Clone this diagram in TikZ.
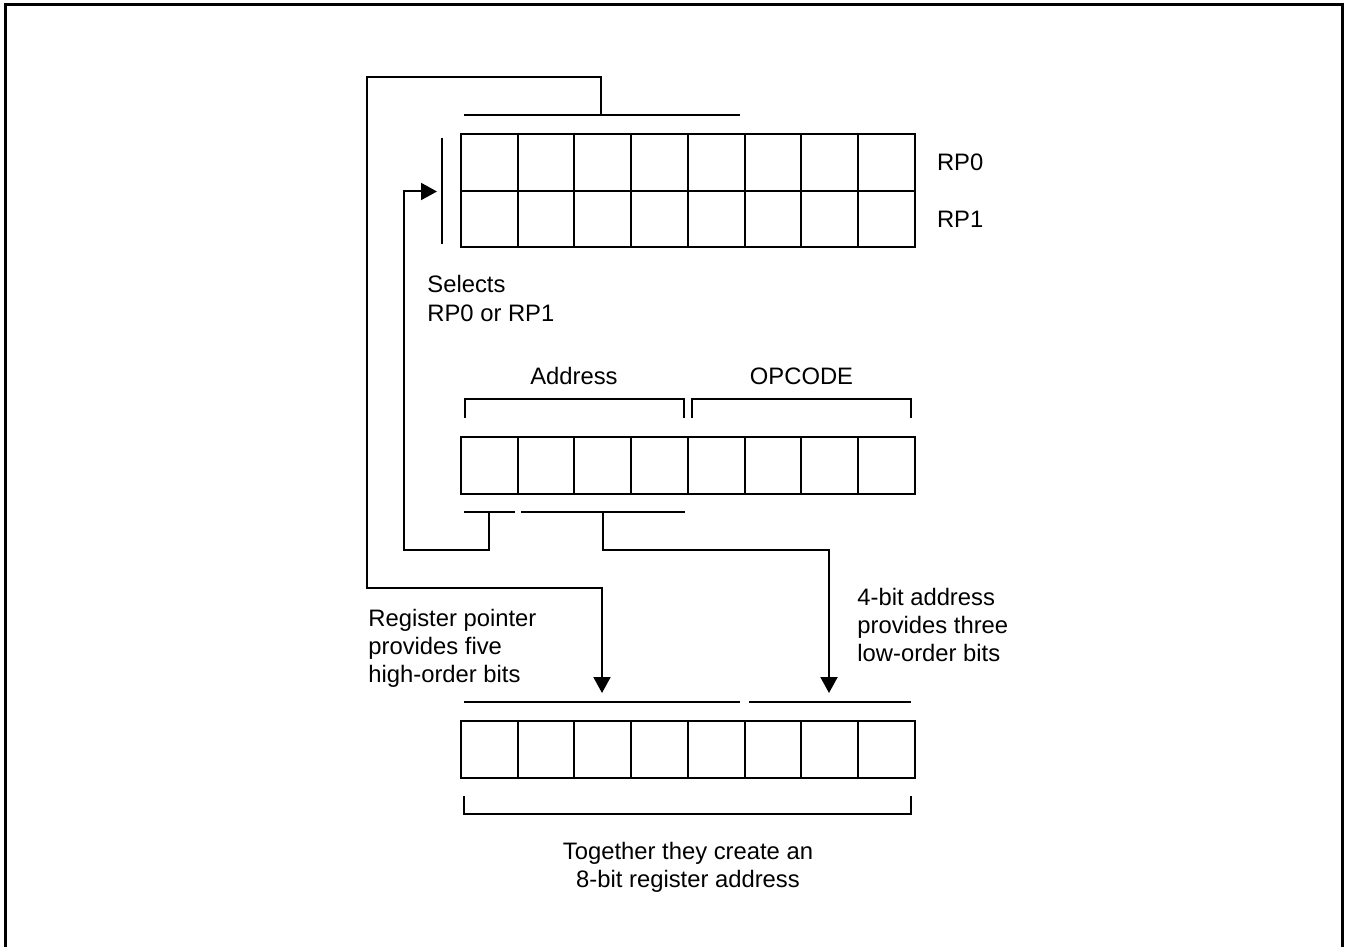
\documentclass[tikz,border=0pt]{standalone}
\usepackage{fontspec}
\setmainfont{Liberation Sans}
\usetikzlibrary{positioning, arrows.meta}
\tikzset{
  % one bit of a register
  bitcell/.style={
    draw, line width=1pt, minimum size=28.35pt,
    inner sep=0pt, outer sep=0pt
  },
  % field brackets and plain lines
  bracket/.style={line width=1pt},
  % routed connector with filled head
  feed/.style={
    line width=1pt, -{Triangle[width=8.5pt, length=8pt]}
  },
  lbl/.style={
    font=\fontsize{11.9}{14}\selectfont, inner sep=0pt, align=left
  },
}

\begin{document}
\begin{tikzpicture}[x=0.5pt, y=-0.5pt]
  \useasboundingbox (0,0) rectangle (1345,947);
  \draw[line width=1.5pt] (5,947) -- (5,5) -- (1342,5) -- (1342,947);

  %% -- Register pointers RP0 / RP1 --
  \foreach \i in {0,...,7} {
    \node[bitcell] (rpa-\i) at (489.35+56.7*\i, 162.35) {};
    \node[bitcell] (rpb-\i) at (489.35+56.7*\i, 219.05) {};
  }
  \node[lbl, right=11pt of rpa-7] (rp0) {RP0};
  \node[lbl, right=11pt of rpb-7] (rp1) {RP1};

  \draw[bracket] (464,115) -- (740,115);
  \coordinate (rpsel) at (601,115);
  \draw[bracket] (442,138) -- (442,244);   % selector bar
  \coordinate (muxin) at (437,191.5);

  \node[lbl, anchor=north west, font=\fontsize{11.9}{14.5}\selectfont] (selects) at (427,275) {Selects\\RP0 or RP1};

  %% -- Instruction: address + opcode --
  \foreach \i in {0,...,7}
    \node[bitcell] (ins-\i) at (489.35+56.7*\i, 465.35) {};

  \draw[bracket] (465,418) -- (465,399) -- (684,399) -- (684,418);
  \draw[bracket] (692,418) -- (692,399) -- (911,399) -- (911,418);
  \node[lbl] (address) at (574,376) {Address};
  \node[lbl] (opcode)  at (801.5,376) {OPCODE};

  \draw[bracket] (464,512) -- (515,512);
  \draw[bracket] (521,512) -- (685,512);
  \coordinate (bsel)  at (489,512);
  \coordinate (baddr) at (603,512);

  %% -- Resulting register address --
  \foreach \i in {0,...,7}
    \node[bitcell] (reg-\i) at (489.35+56.7*\i, 749.35) {};

  \draw[bracket] (464,702) -- (740,702);
  \draw[bracket] (749,702) -- (911,702);
  \coordinate (hiin) at (602,693);
  \coordinate (loin) at (829,693);
  \draw[bracket] (464,796) -- (464,814) -- (911,814) -- (911,796);

  \node[lbl, anchor=north west] (hilbl) at (368,609) {Register pointer\\provides five\\high-order bits};
  \node[lbl, anchor=north west] (lolbl) at (857,588) {4-bit address\\provides three\\low-order bits};
  \node[lbl, anchor=north, align=center] (result) at (688,842) {Together they create an\\8-bit register address};

  %% -- Connectors --
  \draw[feed] (rpsel) -- ++(0,-38) -| (367,588) -| (hiin);
  \draw[feed] (bsel) |- (404,550) |- (muxin);
  \draw[feed] (baddr) -- ++(0,38) -| (loin);

\end{tikzpicture}
\end{document}
